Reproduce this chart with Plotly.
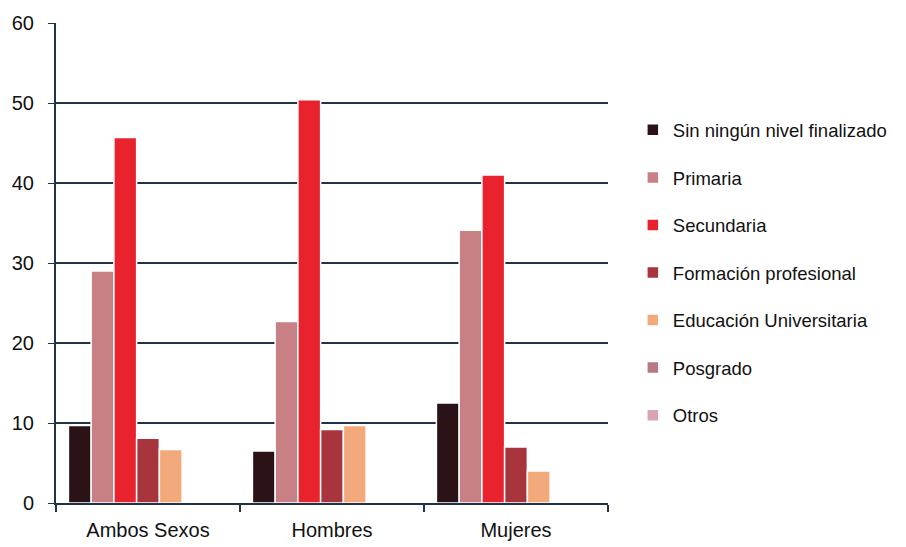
import plotly.graph_objects as go

categories = ["Ambos Sexos", "Hombres", "Mujeres"]
series_names = ["Sin ningún nivel finalizado", "Primaria", "Secundaria",
                "Formación profesional", "Educación Universitaria", "Posgrado", "Otros"]
sin_nivel = [9.7, 6.5, 12.5]
primaria = [29.0, 22.7, 34.1]
secundaria = [45.7, 50.4, 41.0]
formacion = [8.1, 9.2, 7.0]
universitaria = [6.7, 9.7, 4.0]
posgrado = [0, 0, 0]
otros = [0, 0, 0]

values = [sin_nivel, primaria, secundaria, formacion, universitaria, posgrado, otros]
colors = ["#2a1216", "#c98084", "#e8232d", "#a8343e", "#f2a97c", "#b77a80", "#d9a3b4"]

FONT = "Liberation Sans, Arial, sans-serif"
NAVY = "#1f344c"

fig = go.Figure()
for i, (name, vals) in enumerate(zip(series_names, values)):
    fig.add_trace(go.Bar(
        x=categories, y=vals, name=name,
        marker=dict(color=colors[i], line=dict(color="white", width=1.5)),
        legendgroup=f"g{i}",
    ))

# page body adds 8px offset, so the figure is a little smaller than the window
fig.update_layout(
    width=898, height=539,
    margin=dict(l=48, r=298, t=15, b=44, autoexpand=False),
    paper_bgcolor="white", plot_bgcolor="white",
    font=dict(family=FONT, size=20, color="#111111"),
    barmode="group", bargap=0.135, bargroupgap=0.0,
    showlegend=True,
    legend=dict(x=1.045, y=0.816, xanchor="left", yanchor="top",
                traceorder="grouped", tracegroupgap=20.5,
                font=dict(family=FONT, size=18.5, color="#111111"),
                itemwidth=30),
    xaxis=dict(
        automargin=False,
        showline=True, linecolor=NAVY, linewidth=2,
        tickson="boundaries", ticks="outside", ticklen=7, tickcolor=NAVY, tickwidth=1.5,
        ticklabelstandoff=8,
        showgrid=False,
        tickfont=dict(size=20),
    ),
    yaxis=dict(
        automargin=False,
        range=[0, 60], dtick=10,
        showline=True, linecolor=NAVY, linewidth=2,
        showgrid=True, gridcolor=NAVY, gridwidth=1.5,
        ticks="outside", ticklen=6, tickcolor=NAVY,
        ticklabelstandoff=10,
        tickfont=dict(size=20),
        zeroline=False,
    ),
)

fig.write_html("out.html")
